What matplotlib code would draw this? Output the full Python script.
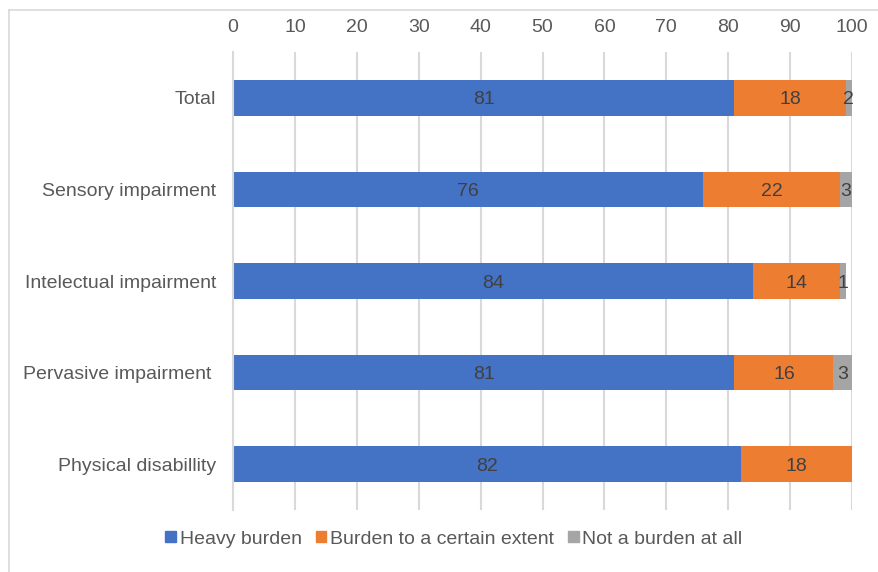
import matplotlib
matplotlib.use("Agg")
import matplotlib.pyplot as plt
from matplotlib.patches import Rectangle
from matplotlib.lines import Line2D

categories = ["Total", "Sensory impairment", "Intelectual impairment",
              "Pervasive impairment ", "Physical disabillity"]
heavy = [81, 76, 84, 81, 82]
certain = [18, 22, 14, 16, 18]
not_at_all = [2, 3, 1, 3, 0]
series_names = ["Heavy burden", "Burden to a certain extent", "Not a burden at all"]
colors = ["#4472C4", "#ED7D31", "#A5A5A5"]
xticks = [0, 10, 20, 30, 40, 50, 60, 70, 80, 90, 100]

plt.rcParams['font.family'] = ['Liberation Sans', 'DejaVu Sans']
txt = "#595959"
grid = "#D9D9D9"
fs = 14

fig = plt.figure(figsize=(8.79, 5.72), dpi=100)
ax = fig.add_axes([233/879, 1-510/572, (852-233)/879, (510-52)/572])

# outer border (partially visible chart frame)
fig.add_artist(Line2D([9/879, 9/879], [0, 1-10/572], transform=fig.transFigure, color=grid, lw=1.2))
fig.add_artist(Line2D([9/879, 1], [1-10/572, 1-10/572], transform=fig.transFigure, color=grid, lw=1.2))

y = list(range(len(categories)))
series = [heavy, certain, not_at_all]
left = [0]*len(categories)
for vals, name, c in zip(series, series_names, colors):
    bars = ax.barh(y, vals, left=left, height=0.39, color=c, label=name, zorder=3)
    labels = [str(v) if v > 0 else "" for v in vals]
    texts = ax.bar_label(bars, labels=labels, label_type='center', color="#404040",
                         fontsize=fs, clip_on=False)
    for t in texts:
        t.set_verticalalignment('center_baseline')
    left = [l + v for l, v in zip(left, vals)]

ax.set_xlim(0, 100)
ax.set_ylim(len(categories)-0.5, -0.5)
ax.set_yticks(y)
ax.set_yticklabels(categories, fontsize=fs, color=txt)
ax.set_xticks(xticks)
ax.set_xticklabels([str(t) for t in xticks], fontsize=fs, color=txt)
ax.xaxis.tick_top()
ax.tick_params(axis='y', length=0, pad=12)
ax.tick_params(axis='x', length=0, pad=11.5)
ax.grid(axis='x', color=grid, lw=1.5, zorder=0)
for s in ['top', 'right', 'bottom']:
    ax.spines[s].set_visible(False)
ax.spines['left'].set_color(grid)
ax.spines['left'].set_linewidth(1.5)
ax.spines['left'].set_zorder(4)

handles = [Rectangle((0, 0), 1, 1, color=c) for c in colors]
leg = fig.legend(handles, series_names, loc='center', bbox_to_anchor=(454/879, 1-539/572),
                 ncol=3, frameon=False, fontsize=fs, handlelength=0.55, handleheight=0.55,
                 handletextpad=0.2, columnspacing=0.7)
for t in leg.get_texts():
    t.set_color(txt)

fig.savefig("out.png", dpi=100)
